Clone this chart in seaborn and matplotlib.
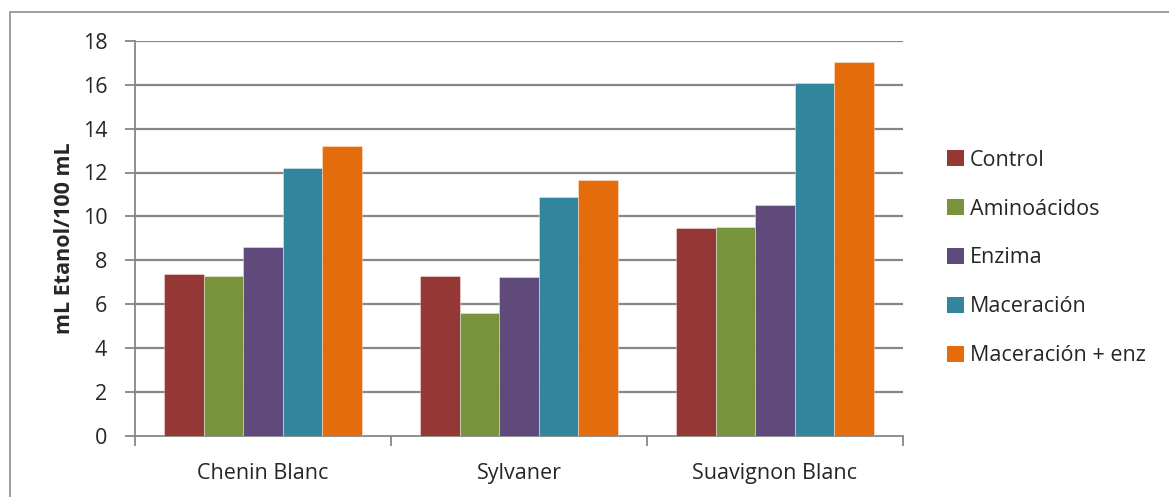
import matplotlib
matplotlib.use("Agg")
import matplotlib.pyplot as plt
from matplotlib.patches import Rectangle, Patch
import seaborn as sns
import pandas as pd

# Alcohol yield per grape variety and treatment
varieties = ["Chenin Blanc", "Sylvaner", "Suavignon Blanc"]
treatments = ["Control", "Aminoácidos", "Enzima", "Maceración", "Maceración + enz"]
control = [7.36, 7.28, 9.49]
aminoacidos = [7.28, 5.58, 9.52]
enzima = [8.59, 7.22, 10.52]
maceracion = [12.2, 10.86, 16.1]
maceracion_enz = [13.22, 11.68, 17.04]
colors = ["#953735", "#77933C", "#604A7B", "#31859C", "#E46C0A"]
yticks = [0, 2, 4, 6, 8, 10, 12, 14, 16, 18]

series = [control, aminoacidos, enzima, maceracion, maceracion_enz]
rows = []
for t, vals in zip(treatments, series):
    for v, val in zip(varieties, vals):
        rows.append({"Variedad": v, "Tratamiento": t, "Etanol": val})
df = pd.DataFrame(rows)

sns.set_style("white")
plt.rcParams["font.family"] = ["Open Sans", "DejaVu Sans"]

FS = 15.5
W, H = 1169, 497
fig = plt.figure(figsize=(W / 100, H / 100), dpi=100)
ax = fig.add_axes([135 / W, 1 - 435.5 / H, (903 - 135) / W, (435.5 - 41) / H])

sns.barplot(data=df, x="Variedad", y="Etanol", hue="Tratamiento",
            order=varieties, hue_order=treatments, palette=colors,
            saturation=1, width=0.77, gap=0, errorbar=None, ax=ax,
            legend=False, edgecolor=(1, 1, 1, 0.45), linewidth=0.6, zorder=3)

grid_c = "#868686"
ax.set_ylim(0, 18)
ax.set_xlim(-0.5, 2.5)
ax.set_yticks(yticks)
ax.set_yticklabels([str(t) for t in yticks], fontsize=FS)
for y in yticks[1:]:
    ax.axhline(y, color=grid_c, lw=1.6, zorder=1)

# category boundary ticks and centred labels
ax.set_xticks([-0.5, 0.5, 1.5, 2.5])
ax.set_xticklabels([])
ax.set_xticks([0, 1, 2], minor=True)
ax.set_xticklabels(varieties, minor=True, fontsize=FS)
ax.tick_params(axis="x", which="major", direction="out", length=7, width=1.3,
               color=grid_c, bottom=True)
ax.tick_params(axis="x", which="minor", length=0, pad=19.5)
ax.tick_params(axis="y", direction="out", length=7, width=1.3, color=grid_c,
               left=True, pad=13)

for s in ["top", "right"]:
    ax.spines[s].set_visible(False)
for s in ["left", "bottom"]:
    ax.spines[s].set_color(grid_c)
    ax.spines[s].set_linewidth(1.3)

ax.set_xlabel("")
ax.set_ylabel("mL Etanol/100 mL", fontsize=FS, fontweight="bold", labelpad=5.5)

handles = [Patch(facecolor=c, edgecolor="none") for c in colors]
fig.legend(handles, treatments, loc="center left",
           bbox_to_anchor=(928 / W, 1 - 258 / H), frameon=False,
           fontsize=FS, handlelength=0.75, handleheight=0.75,
           handletextpad=0.3, labelspacing=1.3)

# outer chart frame
fig.patches.append(Rectangle((10 / W, -0.2), 1.2, 1.2 - 12 / H,
                             transform=fig.transFigure, fill=False,
                             edgecolor="#8c8c8c", lw=1.2))

fig.savefig("out.png", dpi=100, facecolor="white")
